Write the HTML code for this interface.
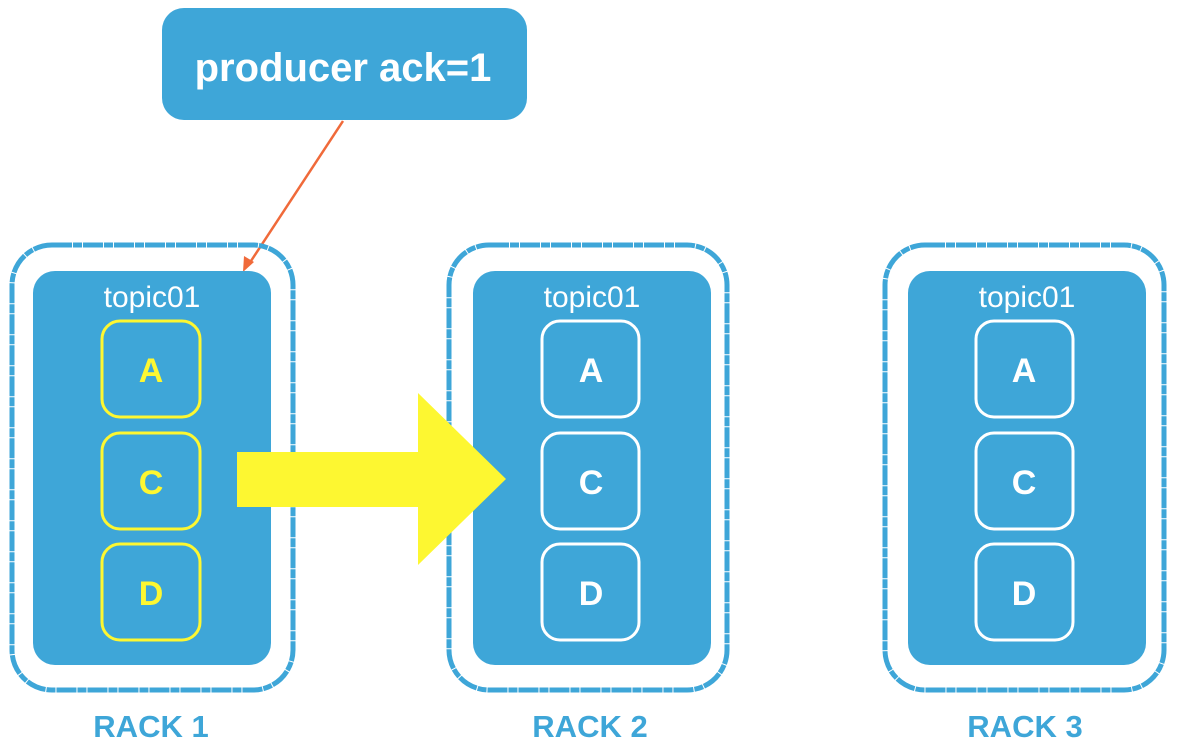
<!DOCTYPE html>
<html><head><meta charset="utf-8"><style>
html,body{margin:0;padding:0;background:#fff;}
svg{display:block;}
text{font-family:"Liberation Sans",sans-serif;}
</style></head><body>
<svg width="1178" height="754" viewBox="0 0 1178 754" xmlns="http://www.w3.org/2000/svg">
<rect x="162" y="8" width="365" height="112" rx="22" fill="#3ea6d8"/>
<text x="343" y="81" text-anchor="middle" font-size="40" font-weight="bold" fill="#fff">producer ack=1</text>
<line x1="343" y1="121" x2="249" y2="264" stroke="#f06a3a" stroke-width="2.5"/>
<polygon points="243,272 244,256 254,262" fill="#f06a3a"/>

<g fill="none" stroke="#3ea6d8" stroke-width="5" stroke-dasharray="20 1 9 1">
<rect x="12" y="245" width="281" height="445" rx="40"/>
<rect x="449" y="245" width="278" height="445" rx="40"/>
<rect x="885" y="245" width="279" height="445" rx="40"/>
</g>
<g fill="#3ea6d8">
<rect x="33" y="271" width="238" height="394" rx="22"/>
<rect x="473" y="271" width="238" height="394" rx="22"/>
<rect x="908" y="271" width="238" height="394" rx="22"/>
</g>
<g font-size="30" fill="#fff" text-anchor="middle">
<text x="152" y="307">topic01</text>
<text x="592" y="307">topic01</text>
<text x="1027" y="307">topic01</text>
</g>
<g fill="none" stroke-width="3">
<g stroke="#fdf731">
<rect x="102" y="321" width="98" height="96" rx="18"/>
<rect x="102" y="433" width="98" height="96" rx="18"/>
<rect x="102" y="544" width="98" height="96" rx="18"/>
</g>
<g stroke="#fff">
<rect x="542" y="321" width="97" height="96" rx="18"/>
<rect x="542" y="433" width="97" height="96" rx="18"/>
<rect x="542" y="544" width="97" height="96" rx="18"/>
<rect x="976" y="321" width="97" height="96" rx="18"/>
<rect x="976" y="433" width="97" height="96" rx="18"/>
<rect x="976" y="544" width="97" height="96" rx="18"/>
</g>
</g>
<g font-size="34" font-weight="bold" text-anchor="middle">
<g fill="#fdf731">
<text x="151" y="382">A</text><text x="151" y="494">C</text><text x="151" y="605">D</text>
</g>
<g fill="#fff">
<text x="591" y="382">A</text><text x="591" y="494">C</text><text x="591" y="605">D</text>
<text x="1024" y="382">A</text><text x="1024" y="494">C</text><text x="1024" y="605">D</text>
</g>
</g>
<polygon points="237,452 418,452 418,393 506,479 418,565 418,507 237,507" fill="#fdf731"/>
<g font-size="31" font-weight="bold" fill="#3ea6d8" text-anchor="middle">
<text x="151" y="737">RACK 1</text>
<text x="590" y="737">RACK 2</text>
<text x="1025" y="737">RACK 3</text>
</g>
</svg>
</body></html>
